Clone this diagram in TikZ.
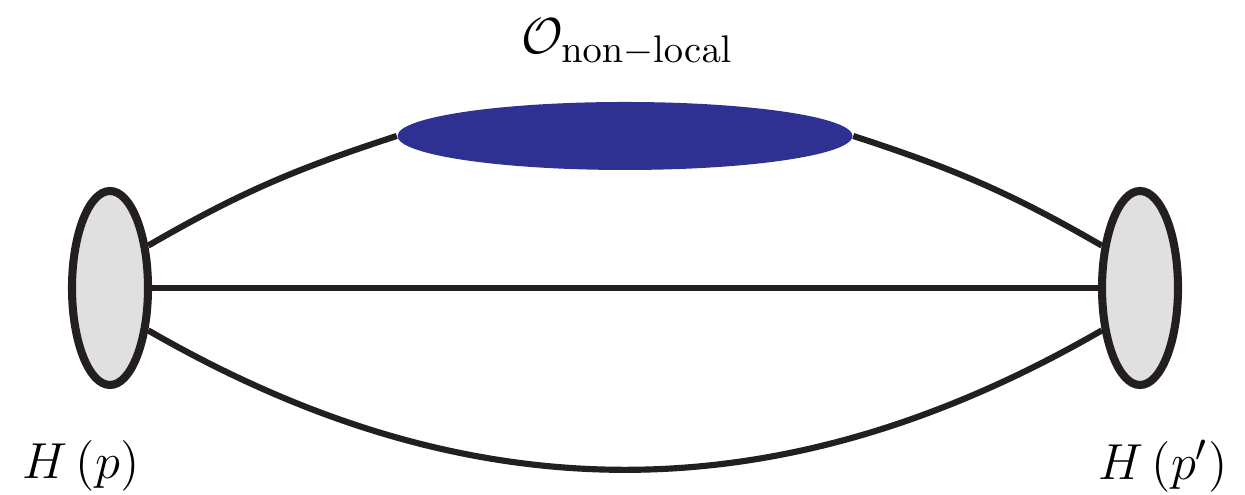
\documentclass[tikz,border=0pt]{standalone}
\usepackage{amsmath,amssymb}
\usetikzlibrary{shapes.geometric,positioning}
\definecolor{opblue}{HTML}{2E3192}
\definecolor{hadgray}{HTML}{E0E0E0}
\definecolor{ink}{HTML}{231F20}

\begin{document}
\begin{tikzpicture}[every node/.style={font=\fontsize{15.4}{18}\selectfont},
  hadron/.style={ellipse, draw=ink, line width=2.3pt, fill=hadgray, minimum width=0.76cm, minimum height=1.94cm, inner sep=0pt},
  opblob/.style={ellipse, fill=opblue, minimum width=4.55cm, minimum height=0.68cm, inner sep=0pt},
  prop/.style={draw=ink, line width=1.75pt}]
  \useasboundingbox (0,0) rectangle (12.45,4.95);
  % blobs
  \node[hadron] (Hin) at (1.10,2.07) {};
  \node[hadron] (Hout) at (11.40,2.07) {};
  \node[opblob] (Op) at (6.25,3.59) {};
  % propagators
  \draw[prop] (Hin.48) to[out=30,in=198] (Op.west);
  \draw[prop] (Op.east) to[out=-18,in=150] (Hout.132);
  \draw[prop] (Hin.east) -- (Hout.west);
  \draw[prop] (Hin.-48) to[out=-30,in=-150] (Hout.-132);
  % labels
  \node (oplabel) at (6.27,4.53) {$\mathcal{O}_{\mathrm{non-local}}$};
  \node (pin) at (0.81,0.29) {$H\left(p\right)$};
  \node (pout) at (11.63,0.29) {$H\left(p'\right)$};
\end{tikzpicture}
\end{document}
